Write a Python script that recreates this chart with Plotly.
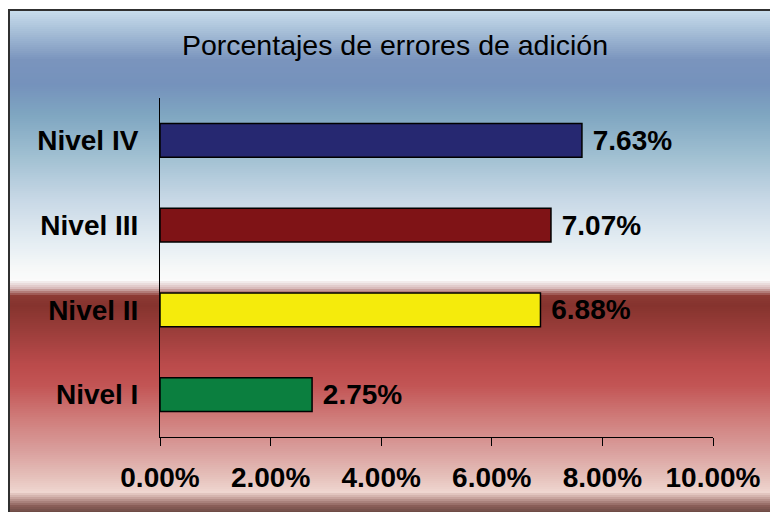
import numpy as np
import plotly.graph_objects as go

# Datos del grafico
niveles = ["Nivel I", "Nivel II", "Nivel III", "Nivel IV"]
porcentajes = [0.0275, 0.0688, 0.0707, 0.0763]
colores = ["#0b7f3f", "#f5eb0c", "#7f1316", "#262871"]
ticks_x = [0, 0.02, 0.04, 0.06, 0.08, 0.10]

# el body se deja sin margen (ver post_script), asi pantalla = figure
W, H = 770, 512
L, R, T, B = 160, 713, 98, 437


def xp(px):
    return (px - L) / (R - L)


def yp(py):
    return (B - py) / (B - T)


# Degradado del fondo: fila en pixeles -> color
fondo_filas = [11, 30, 60, 85, 115, 155, 200, 240, 268, 280, 288, 296, 305,
               330, 365, 385, 420, 450, 478, 492, 498, 506, 512]
fondo_colores = ["#c8dcec", "#a9c1d9", "#7a94bd", "#7592bc", "#7fa6c1",
                 "#9fbfd1", "#c8d8e6", "#e3ecf2", "#f6f8f8", "#fbfbfb",
                 "#d9bcbc", "#8d3a34", "#85332e", "#9a3d3a", "#bb4b4b",
                 "#c25454", "#d07e7c", "#d99e9c", "#e6c2bc", "#efd6d0",
                 "#c8a49e", "#8a5e58", "#6e4c46"]


def hex_rgb(c):
    return [int(c[i:i + 2], 16) for i in (1, 3, 5)]


rgb = np.array([hex_rgb(c) for c in fondo_colores], dtype=float)

shapes = []
for y in range(11, H, 2):
    col = [np.interp(y + 1, fondo_filas, rgb[:, k]) for k in range(3)]
    shapes.append(dict(
        type="rect", xref="paper", yref="paper", layer="below",
        x0=xp(9), x1=xp(W + 20), y0=yp(y + 2.2), y1=yp(y),
        fillcolor="rgb(%d,%d,%d)" % tuple(int(round(v)) for v in col),
        line=dict(width=0),
    ))

# Marco exterior
shapes.append(dict(
    type="rect", xref="paper", yref="paper", layer="below",
    x0=xp(9), x1=xp(W + 20), y0=yp(H + 20), y1=yp(10),
    fillcolor="rgba(0,0,0,0)", line=dict(color="#303030", width=2),
))

fig = go.Figure(go.Bar(
    x=porcentajes,
    y=niveles,
    orientation="h",
    width=0.4,
    marker=dict(color=colores, line=dict(color="black", width=1.5)),
    texttemplate=" %{x:.2%}",
    textposition="outside",
    textfont=dict(family="Liberation Sans, Arial", size=28, color="black",
                  weight="bold"),
    cliponaxis=False,
    hoverinfo="skip",
))

fig.update_layout(
    width=W,
    height=H,
    margin=dict(l=L, r=W - R, t=T, b=H - B, autoexpand=False),
    paper_bgcolor="white",
    plot_bgcolor="rgba(0,0,0,0)",
    shapes=shapes,
    showlegend=False,
    title=dict(
        text="Porcentajes de errores de adición",
        x=395 / W, xanchor="center",
        y=1 - 45 / H, yanchor="middle",
        font=dict(family="Liberation Sans, Arial", size=28.5, color="black"),
    ),
    xaxis=dict(
        range=[0, 0.10],
        tickvals=ticks_x,
        tickformat=".2%",
        automargin=False,
        showgrid=False,
        zeroline=False,
        showline=True,
        linecolor="black",
        linewidth=1,
        ticks="outside",
        ticklen=8,
        tickcolor="black",
        ticklabelstandoff=7,
        tickfont=dict(family="Liberation Sans, Arial", size=28, color="black",
                      weight="bold"),
    ),
    yaxis=dict(
        categoryorder="array",
        categoryarray=niveles,
        automargin=False,
        showgrid=False,
        zeroline=False,
        showline=True,
        linecolor="black",
        linewidth=1,
        ticks="",
        ticklabelstandoff=15,
        tickfont=dict(family="Liberation Sans, Arial", size=28, color="black",
                      weight="bold"),
    ),
)

fig.write_html("out.html", config={"displayModeBar": False},
               post_script="document.body.style.margin='0';")
